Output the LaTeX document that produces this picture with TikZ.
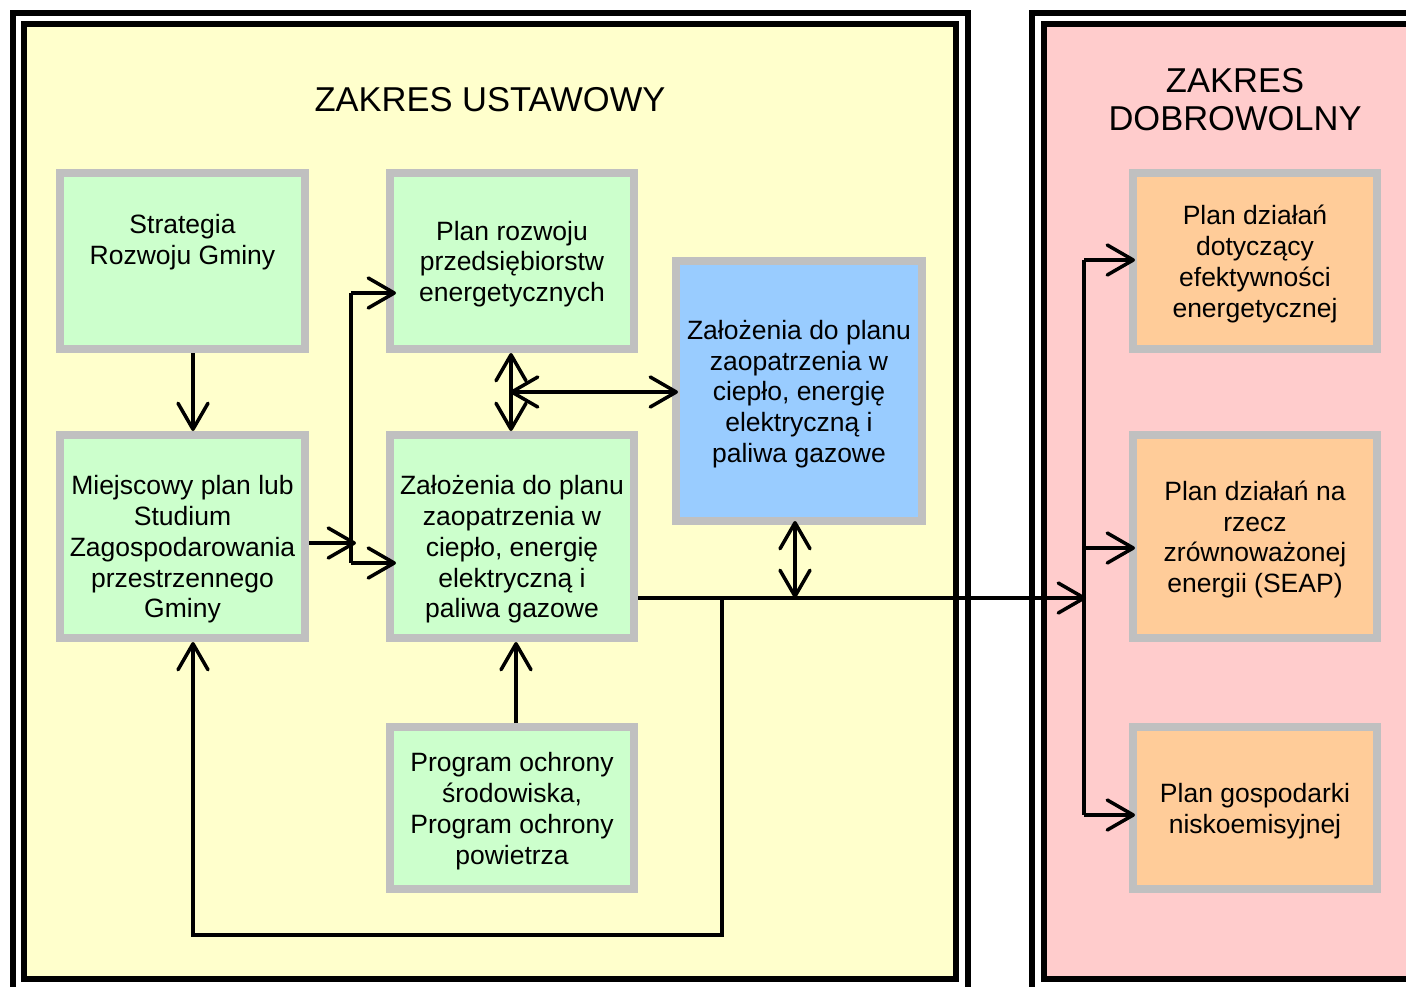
\documentclass[tikz,border=0pt]{standalone}
\usepackage{fontspec}
\setmainfont{Liberation Sans}
\usetikzlibrary{arrows.meta,calc}
\definecolor{cYel}{HTML}{FFFFCC}
\definecolor{cPink}{HTML}{FFCCCC}
\definecolor{cGreen}{HTML}{CCFFCC}
\definecolor{cBlue}{HTML}{99CCFF}
\definecolor{cOrange}{HTML}{FFCC99}
\definecolor{cGray}{HTML}{C0C0C0}
\begin{document}
\begin{tikzpicture}[x=1pt,y=-1pt,
  box/.style={draw=cGray,line width=8pt,inner sep=0pt,outer sep=4pt},
  txt/.style={align=center,inner sep=0pt,yshift=-3pt,font=\fontsize{26.5}{30.8}\selectfont},
  ttl/.style={align=center,inner sep=0pt,font=\fontsize{34.5}{38}\selectfont},
  panel/.style={line width=6pt},
  ln/.style={line width=3.5pt},
  arr/.style={line width=3.5pt,-{Straight Barb[length=26pt,width=30pt,round]}},
  darr/.style={line width=3.5pt,{Straight Barb[length=26pt,width=30pt,round]}-{Straight Barb[length=26pt,width=30pt,round]}}
]
\useasboundingbox (0,0) rectangle (1406,986);
\clip (0,0) rectangle (1406,986);
% panels
\draw[panel] (13,1010) -- (13,13) -- (968,13) -- (968,1010);
\draw[panel,fill=cYel] (24,24) rectangle (956,979);
\draw[panel] (1032,1010) -- (1032,13) -- (1420,13);
\fill[cPink] (1044,24) rectangle (1420,979);
\draw[panel] (1420,979) -- (1044,979) -- (1044,24) -- (1420,24);
% titles
\node[ttl] (t1) at (490,100) {ZAKRES USTAWOWY};
\node[ttl] (t2) at (1235,100) {ZAKRES\\DOBROWOLNY};
% boxes
\node[box,fill=cGreen,minimum width=245pt,minimum height=176pt] (strat) at (182.5,261) {};
\node[box,fill=cGreen,minimum width=244pt,minimum height=176pt] (plan) at (512,261) {};
\node[box,fill=cGreen,minimum width=245pt,minimum height=203pt] (miej) at (182.5,536.5) {};
\node[box,fill=cGreen,minimum width=244pt,minimum height=203pt] (zal) at (512,536.5) {};
\node[box,fill=cGreen,minimum width=244pt,minimum height=162pt] (prog) at (512,808) {};
\node[box,fill=cBlue,minimum width=246pt,minimum height=260pt] (blue) at (799,391) {};
\node[box,fill=cOrange,minimum width=244pt,minimum height=176pt] (o1) at (1255,261) {};
\node[box,fill=cOrange,minimum width=244pt,minimum height=203pt] (o2) at (1255,536.5) {};
\node[box,fill=cOrange,minimum width=244pt,minimum height=162pt] (o3) at (1255,808) {};
% texts
\node[txt] (strat-t) at ([yshift=22pt]strat.center) {Strategia\\Rozwoju Gminy};
\node[txt] (plan-t) at (plan.center) {Plan rozwoju\\przedsiębiorstw\\energetycznych};
\node[txt] (miej-t) at ([yshift=-10pt]miej.center) {Miejscowy plan lub\\Studium\\Zagospodarowania\\przestrzennego\\Gminy};
\node[txt] (zal-t) at ([yshift=-10pt]zal.center) {Założenia do planu\\zaopatrzenia w\\ciepło, energię\\elektryczną i\\paliwa gazowe};
\node[txt] (prog-t) at (prog.center) {Program ochrony\\środowiska,\\Program ochrony\\powietrza};
\node[txt] (blue-t) at (blue.center) {Założenia do planu\\zaopatrzenia w\\ciepło, energię\\elektryczną i\\paliwa gazowe};
\node[txt] (o1-t) at (o1.center) {Plan działań\\dotyczący\\efektywności\\energetycznej};
\node[txt] (o2-t) at (o2.center) {Plan działań na\\rzecz\\zrównoważonej\\energii (SEAP)};
\node[txt] (o3-t) at (o3.center) {Plan gospodarki\\niskoemisyjnej};
% coordinates
\coordinate (sx) at (193,0);
\coordinate (busTop) at (351,293);
\coordinate (busBot) at (351,563);
\coordinate (busIn) at (356,543);
\coordinate (dv) at (511,0);
\coordinate (dh) at (510,392);
\coordinate (bv) at (795,598);
\coordinate (hub) at (1086,598);
\coordinate (lp) at (722,598);
\coordinate (lb) at (722,935);
\coordinate (lx) at (193,935);
\coordinate (px) at (516,0);
\coordinate (r1) at (1084,260);
\coordinate (r2) at (1084,548);
\coordinate (r3) at (1084,815);
% connectors
\draw[arr] (sx |- strat.south) -- (sx |- miej.north);
\draw[ln] (busTop) -- (busBot);
\draw[arr] (busTop) -- ([xshift=10pt]busTop -| plan.west);
\draw[arr] (busBot) -- ([xshift=10pt]busBot -| zal.west);
\draw[arr] (busIn -| miej.east) -- (busIn);
\draw[darr] (dv |- plan.south) -- (dv |- zal.north);
\draw[darr] (dh) -- ([xshift=6pt]dh -| blue.west);
\draw[darr] ([yshift=4pt]bv |- blue.south) -- (bv);
\draw[arr] (zal.east |- hub) -- (hub);
\draw[arr] (lp) -- (lb) -- (lx) -- (lx |- miej.south);
\draw[arr] (px |- prog.north) -- (px |- zal.south);
\draw[ln] (r1) -- (r3);
\draw[arr] (r1) -- ([xshift=6pt]r1 -| o1.west);
\draw[arr] (r2) -- ([xshift=6pt]r2 -| o2.west);
\draw[arr] (r3) -- ([xshift=6pt]r3 -| o3.west);
\end{tikzpicture}
\end{document}
